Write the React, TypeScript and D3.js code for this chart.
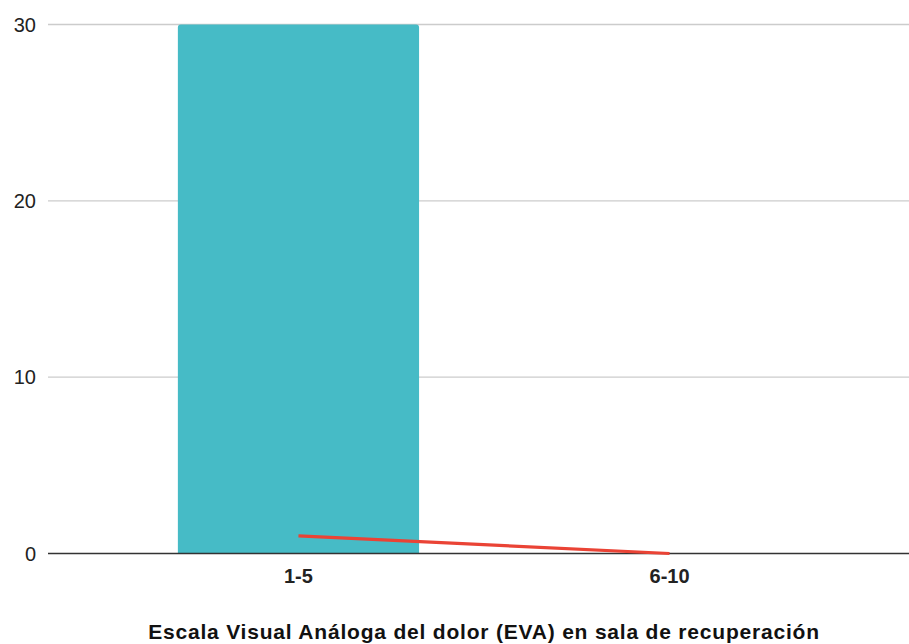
import React from "react";
import * as d3 from "d3";

// Pain score ranges on the visual analogue scale
const categories: string[] = ["1-5", "6-10"];
// Patient counts per range (bars)
const barValues: number[] = [30, 0];
// Companion series drawn as a line
const lineValues: number[] = [1, 0];
// Y-axis ticks
const yTicks: number[] = [0, 10, 20, 30];
const xTitle = "Escala Visual Análoga del dolor (EVA) en sala de recuperación";

const W = 909;
const H = 644;
const FONT = "Arial, 'Liberation Sans', Helvetica, sans-serif";

export default function App() {
  const x = d3
    .scaleBand<string>()
    .domain(categories)
    .range([48, 920])
    .paddingInner(0.35)
    .paddingOuter(0.35);
  const y = d3.scaleLinear().domain([0, 30]).range([553.5, 24.5]);

  const line = d3
    .line<number>()
    .x((_, i) => (x(categories[i]) as number) + x.bandwidth() / 2)
    .y((d) => y(d));

  const barPath = (x0: number, w: number, top: number, bottom: number, r: number) => {
    const rr = Math.min(r, (bottom - top) / 2, w / 2);
    return `M${x0},${bottom}V${top + rr}Q${x0},${top} ${x0 + rr},${top}H${x0 + w - rr}Q${x0 + w},${top} ${x0 + w},${top + rr}V${bottom}Z`;
  };

  return (
    <div style={{ position: "absolute", left: 0, top: 0 }}>
      <svg width={W} height={H} style={{ display: "block", background: "#fff" }}>
        {/* grid lines */}
        {yTicks
          .filter((t) => t !== 0)
          .map((t) => (
            <line key={t} x1={48} x2={920} y1={y(t)} y2={y(t)} stroke="#cccccc" strokeWidth={1.3} />
          ))}
        {/* y tick labels */}
        {yTicks.map((t) => (
          <text
            key={t}
            x={36}
            y={y(t)}
            dy="0.36em"
            textAnchor="end"
            fontFamily={FONT}
            fontSize={20}
            fill="#222"
          >
            {t}
          </text>
        ))}
        {/* bars */}
        {barValues.map((v, i) =>
          v > 0 ? (
            <path
              key={categories[i]}
              d={barPath(x(categories[i]) as number, x.bandwidth(), y(v), y(0), 3)}
              fill="#46bbc6"
            />
          ) : null
        )}
        {/* baseline */}
        <line x1={48} x2={920} y1={y(0)} y2={y(0)} stroke="#333333" strokeWidth={1.6} />
        {/* line series */}
        <path d={line(lineValues) || ""} fill="none" stroke="#ea4335" strokeWidth={3.2} />
        {/* x tick labels */}
        {categories.map((c) => (
          <text
            key={c}
            x={(x(c) as number) + x.bandwidth() / 2}
            y={582.5}
            textAnchor="middle"
            fontFamily={FONT}
            fontSize={20}
            fontWeight="bold"
            fill="#222"
          >
            {c}
          </text>
        ))}
        {/* x axis title */}
        <text
          x={(48 + 920) / 2}
          y={638.5}
          textAnchor="middle"
          fontFamily={FONT}
          fontSize={21}
          letterSpacing={0.8}
          fontWeight="bold"
          fill="#111"
        >
          {xTitle}
        </text>
      </svg>
    </div>
  );
}
